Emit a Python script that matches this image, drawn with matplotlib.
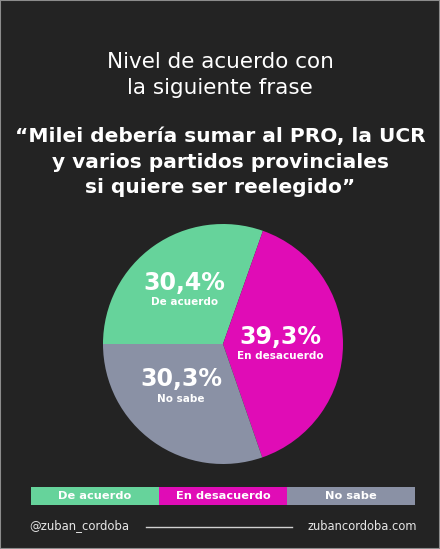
import matplotlib.pyplot as plt
from matplotlib.patches import Rectangle
from matplotlib.lines import Line2D

# DATA
categories = ["De acuerdo", "En desacuerdo", "No sabe"]
values = [30.4, 39.3, 30.3]
value_labels = ["30,4%", "39,3%", "30,3%"]
colors = ["#66D39B", "#E00CB6", "#8A91A5"]

title = "Nivel de acuerdo con\nla siguiente frase"
quote = "“Milei debería sumar al PRO, la UCR\ny varios partidos provinciales\nsi quiere ser reelegido”"

BG = "#232323"
W, H = 440, 549

plt.rcParams["font.family"] = ["DejaVu Sans"]

fig = plt.figure(figsize=(W / 100, H / 100), dpi=100, facecolor=BG)


def fx(px):
    return px / W


def fy(py):
    return 1 - py / H


# border
fig.add_artist(Rectangle((0, 0), 1, 1, transform=fig.transFigure, fill=False,
                         edgecolor="#8c8c8c", linewidth=1.5))

# TITLES
fig.text(0.5, fy(75), title, ha="center", va="center", color="white",
         fontsize=15.5, linespacing=1.35)
fig.text(0.5, fy(162), quote, ha="center", va="center", color="white",
         fontsize=14.5, fontweight="bold", linespacing=1.45)

# PIE
cx, cy, r = 223, 344, 120
ax = fig.add_axes([fx(cx - r), fy(cy + r), fx(2 * r), (2 * r) / H])
ax.set_facecolor(BG)
wedges, _ = ax.pie(values, colors=colors, startangle=180, counterclock=False,
                   radius=1, wedgeprops=dict(linewidth=0))
ax.set_xlim(-1, 1)
ax.set_ylim(-1, 1)
ax.set_aspect("equal")
ax.axis("off")

# label positions in pie units (from center)
label_pos = [(-0.32, 0.37), (0.48, -0.08), (-0.35, -0.435)]
for (lx, ly), vl, cat in zip(label_pos, value_labels, categories):
    ax.text(lx, ly + 0.04, vl, ha="center", va="bottom", color="white",
            fontsize=17, fontweight="bold")
    ax.text(lx, ly + 0.02, cat, ha="center", va="top", color="white",
            fontsize=7.5, fontweight="bold")

# LEGEND BAR
lax = fig.add_axes([fx(31), fy(505), fx(415 - 31), 18 / H])
left = 0
for cat, col in zip(categories, colors):
    lax.barh(0, 1, left=left, color=col, height=1, edgecolor="none")
    lax.text(left + 0.5, 0, cat, ha="center", va="center", color="white",
             fontsize=8.2, fontweight="bold")
    left += 1
lax.set_xlim(0, len(categories))
lax.set_ylim(-0.5, 0.5)
lax.axis("off")

# FOOTER
fig.text(fx(29), fy(526), "@zuban_cordoba", ha="left", va="center",
         color="#e6e6e6", fontsize=8.4)
fig.text(fx(417), fy(526), "zubancordoba.com", ha="right", va="center",
         color="#e6e6e6", fontsize=8.3)
fig.add_artist(Line2D([fx(146), fx(292)], [fy(527), fy(527)],
                      transform=fig.transFigure, color="#d0d0d0", linewidth=1))

fig.savefig("out.png", dpi=100, facecolor=BG)
